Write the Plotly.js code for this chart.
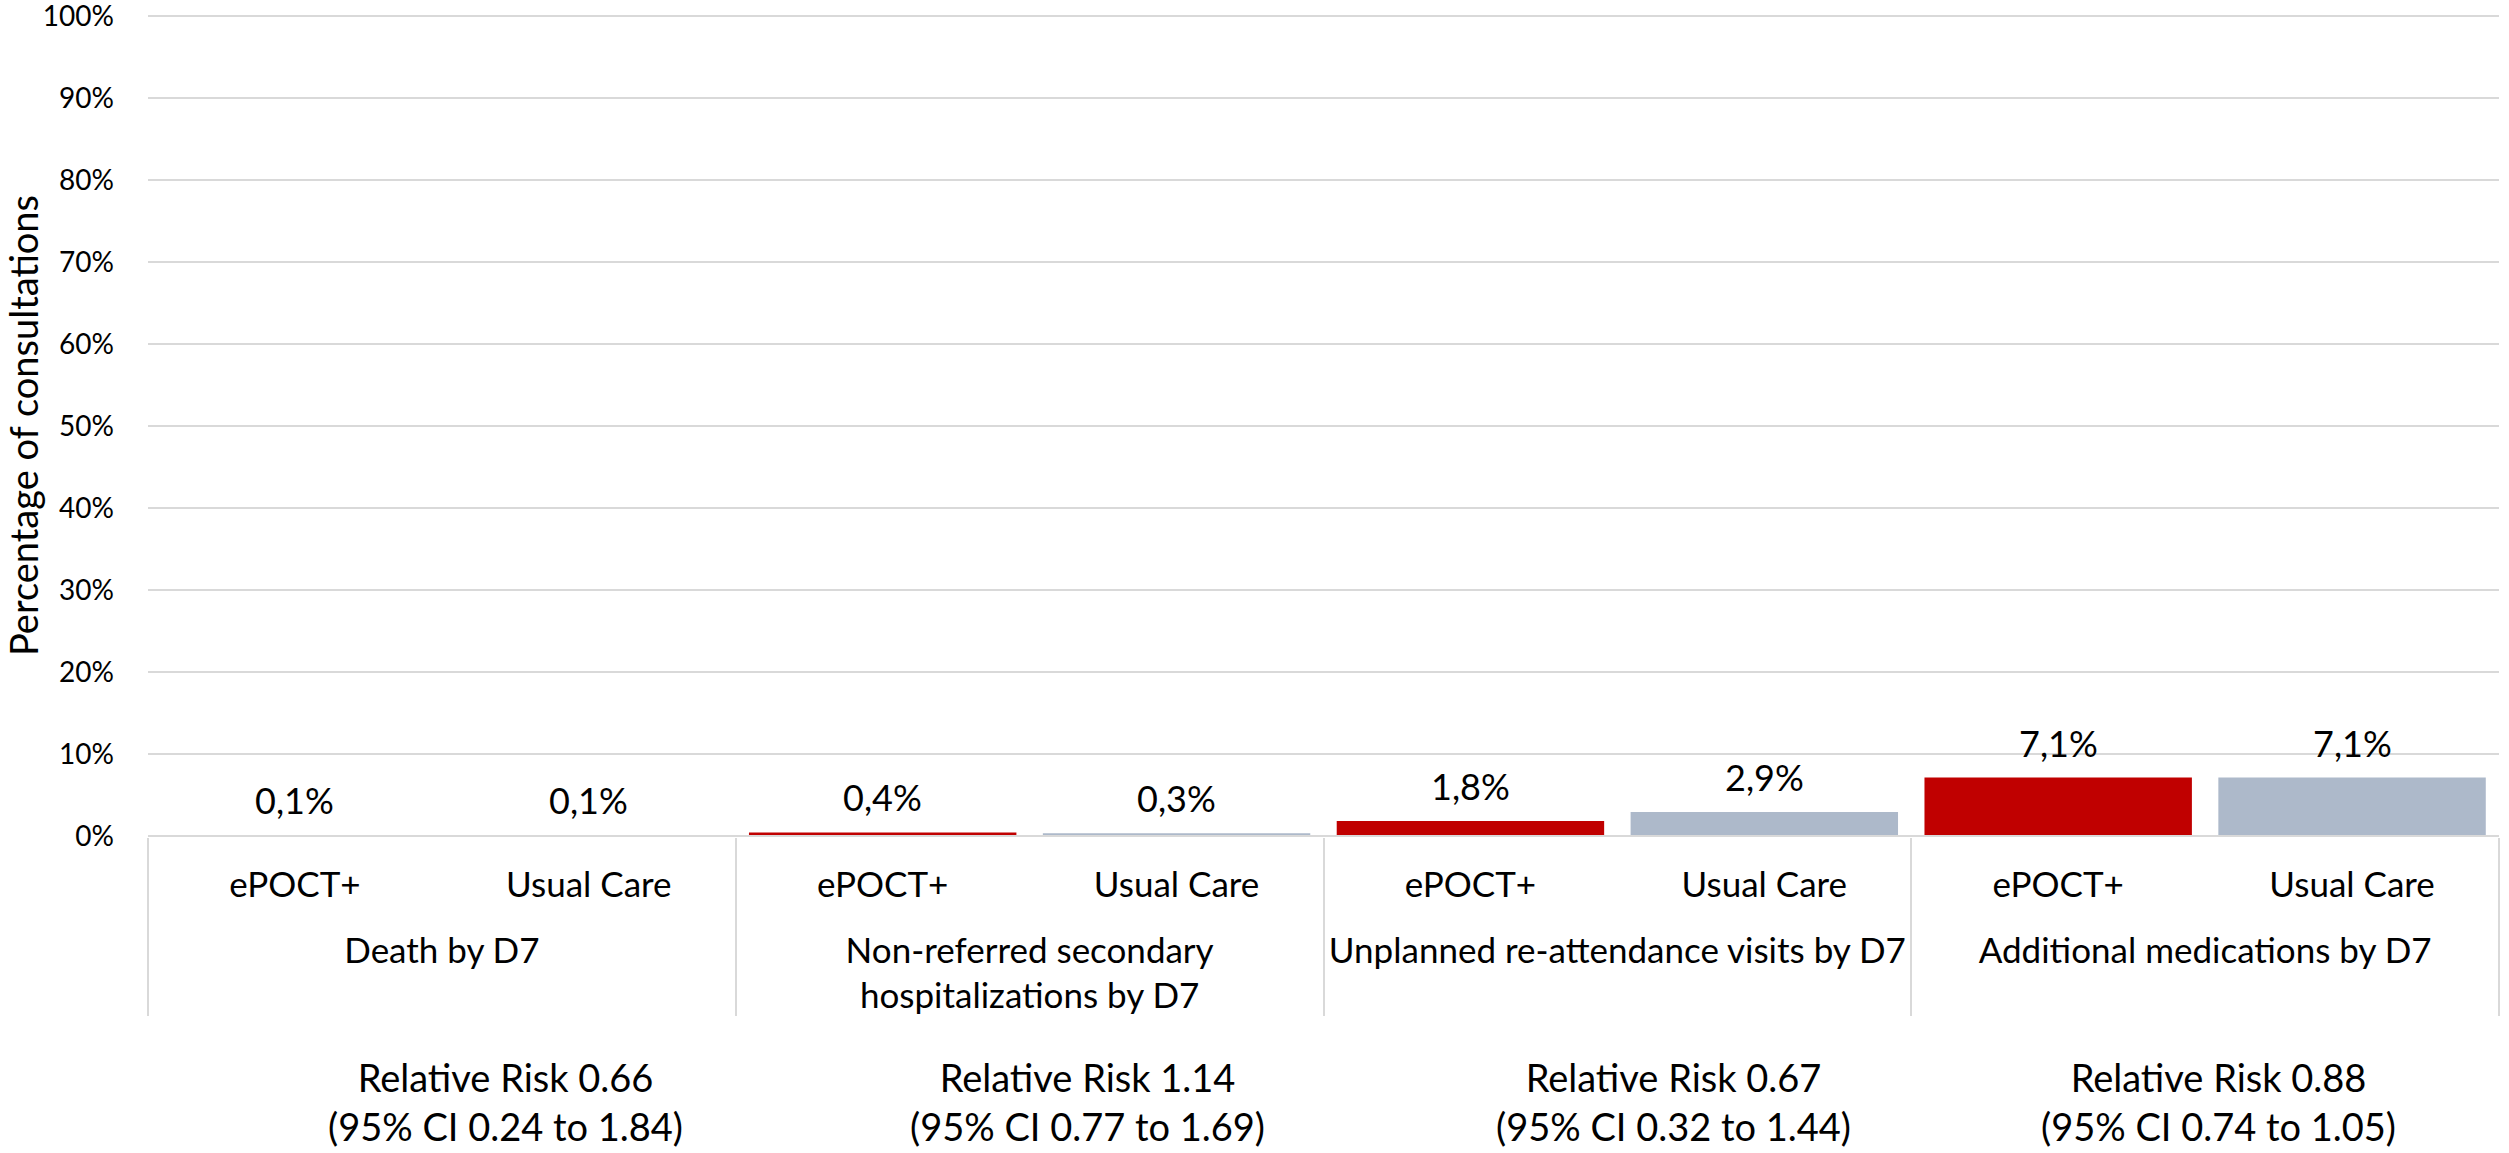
<!DOCTYPE html>
<html><head><meta charset="utf-8">
<script src="https://cdn.plot.ly/plotly-3.0.1.min.js"></script>
<style>html,body{margin:0;padding:0;background:#fff}#chart{width:2509px;height:1153px}</style>
</head><body><div id="chart"></div>
<script>
// ---- data ----
const outcomes = ['Death by D7', 'Non-referred secondary<br>hospitalizations by D7', 'Unplanned re-attendance visits by D7', 'Additional medications by D7'];
const arms = ['ePOCT+', 'Usual Care'];
const epoctValues = [0.1, 0.4, 1.8, 7.1];
const usualCareValues = [0.1, 0.3, 2.9, 7.1];
const relativeRisk = [0.66, 1.14, 0.67, 0.88];
const ciLow = [0.24, 0.77, 0.32, 0.74];
const ciHigh = [1.84, 1.69, 1.44, 1.05];
const yTickValues = [0, 10, 20, 30, 40, 50, 60, 70, 80, 90, 100];
const yTickLabels = ['0%', '10%', '20%', '30%', '40%', '50%', '60%', '70%', '80%', '90%', '100%'];

// ---- styling ----
const FONT = 'Lato, "Open Sans", sans-serif';
const colors = ['#C00000', '#ADB9CA'];
const rrShiftPx = [64, 58, 56, 13];
const series = [epoctValues, usualCareValues];
// leading blank line pushes the outcome (second-level) labels lower, as in the original
const groupLabels = outcomes.map(o => '<br>' + o);

const traces = arms.map((arm, s) => ({
  type: 'bar',
  name: arm,
  x: [groupLabels, outcomes.map(() => arm)],
  y: series[s],
  marker: {color: colors[s]},
  hoverinfo: 'skip'
}));

const fmtPct = v => v.toFixed(1).replace('.', ',') + '%';
const annotations = [];
outcomes.forEach((o, g) => {
  series.forEach((vals, s) => {
    annotations.push({
      xref: 'x', yref: 'y', x: g * 2 + s, y: vals[g],
      text: fmtPct(vals[g]), showarrow: false,
      yanchor: 'middle', yshift: 35,
      font: {family: FONT, size: 36, color: '#000'}
    });
  });
  annotations.push({
    xref: 'x', yref: 'paper', x: g * 2 + 0.5, y: -0.3208, xshift: rrShiftPx[g],
    text: 'Relative Risk ' + relativeRisk[g].toFixed(2) + '<br>(95% CI ' + ciLow[g].toFixed(2) + ' to ' + ciHigh[g].toFixed(2) + ')',
    showarrow: false, yanchor: 'middle', align: 'center',
    font: {family: FONT, size: 38, color: '#000'}
  });
});

const layout = {
  width: 2509, height: 1153,
  margin: {l: 148, r: 10, t: 14, b: 316},
  paper_bgcolor: '#fff', plot_bgcolor: '#fff',
  barmode: 'overlay', bargap: 0.09,
  showlegend: false,
  font: {family: FONT, color: '#000'},
  xaxis: {
    type: 'multicategory',
    range: [-0.5, 7.5],
    showdividers: true, dividercolor: '#D9D9D9', dividerwidth: 2,
    showline: false,
    ticks: '', showgrid: false, zeroline: false,
    ticklabelstandoff: 24,
    tickfont: {family: FONT, size: 35, color: '#000'},
    automargin: false
  },
  yaxis: {
    range: [-0.15, 100.25],
    tickvals: yTickValues, ticktext: yTickLabels,
    gridcolor: '#D9D9D9', gridwidth: 2,
    zeroline: true, zerolinecolor: '#D9D9D9', zerolinewidth: 2.5,
    zerolinelayer: 'above traces',
    showline: false, ticks: '',
    ticklabelstandoff: 33,
    ticklabeloverflow: 'allow',
    tickfont: {family: FONT, size: 28, color: '#000'},
    title: {text: 'Percentage of consultations', font: {family: FONT, size: 38, color: '#000'}, standoff: 32},
    automargin: false
  },
  annotations: annotations
};

Plotly.newPlot('chart', traces, layout, {displayModeBar: false, staticPlot: true});
</script>
</body></html>
